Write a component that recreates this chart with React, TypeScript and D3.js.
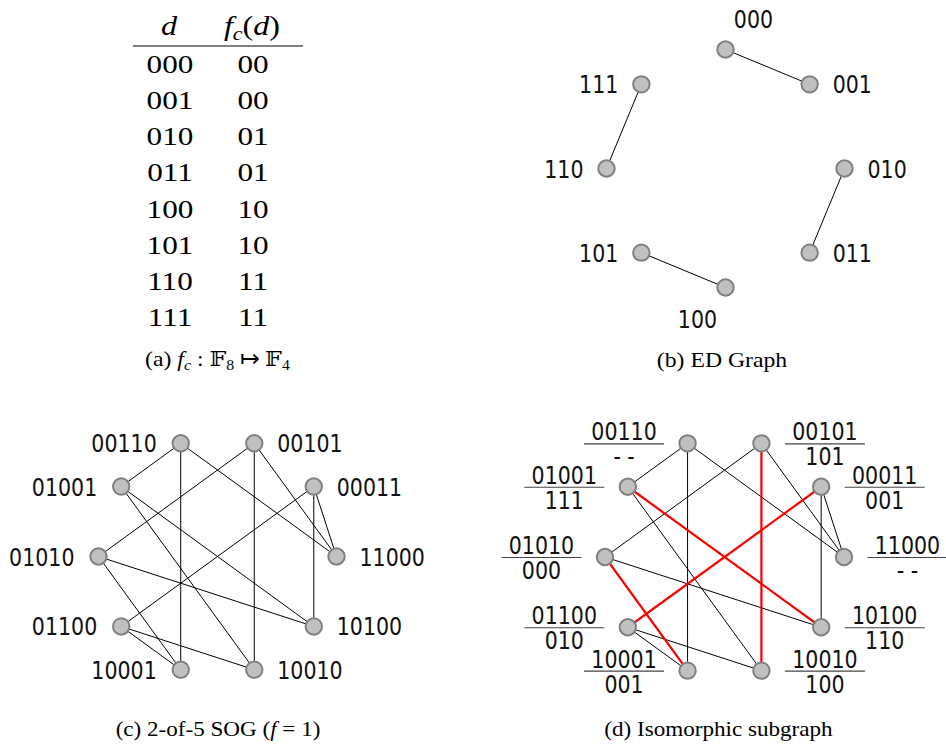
import React from 'react';
import * as d3 from 'd3';

// (a) table
const tableD = ['000', '001', '010', '011', '100', '101', '110', '111'];
const tableFc = ['00', '00', '01', '01', '10', '10', '11', '11'];

// (b) ED graph, clockwise from the top
const edNodes = ['000', '001', '010', '011', '100', '101', '110', '111'];
const edEdges = [['000', '001'], ['010', '011'], ['100', '101'], ['110', '111']];

// (c)/(d) 2-of-5 SOG, clockwise from the right
const sogNodes = ['11000', '10100', '10010', '10001', '01100', '01010', '01001', '00110', '00101', '00011'];
const sogEdges = [
  ['00110', '01001'], ['00110', '10001'], ['00110', '11000'],
  ['00101', '01010'], ['00101', '10010'], ['00101', '11000'],
  ['00011', '11000'], ['00011', '10100'], ['00011', '01100'],
  ['01001', '10100'], ['01001', '10010'],
  ['01010', '10100'], ['01010', '10001'],
  ['01100', '10001'], ['01100', '10010'],
];
// (d) labels under each SOG node, same order as sogNodes
const subLabels = ['- -', '110', '100', '001', '010', '000', '111', '- -', '101', '001'];
const redEdges = [['01001', '10100'], ['00011', '01100'], ['00101', '10010'], ['01010', '10001']];

const W = 946;
const H = 747;

function ring(nodes: string[], cx: number, cy: number, r: number, start: number) {
  const angle = d3.scaleLinear().domain([0, nodes.length]).range([start, start + 2 * Math.PI]);
  const m = new Map<string, { x: number; y: number; a: number }>();
  nodes.forEach((n, i) => {
    const a = angle(i);
    m.set(n, { x: cx + r * Math.cos(a), y: cy + r * Math.sin(a), a });
  });
  return m;
}

const Sans = ({ x, y, anchor, children }: any) => (
  <text transform={`translate(${x},${y}) scale(0.84,1)`} textAnchor={anchor}
    fontFamily="DejaVu Sans, sans-serif" fontSize={24.5} fill="#111">{children}</text>
);

const Serif = ({ x, y, size, sx, children }: any) => (
  <text transform={`translate(${x},${y}) scale(${sx},1)`} textAnchor="middle"
    fontFamily="'Liberation Serif', 'Times New Roman', serif" fontSize={size} fill="#000">{children}</text>
);

const Node = ({ p }: any) => (
  <circle cx={p.x} cy={p.y} r={8.2} fill="#c0c0c0" stroke="#808080" strokeWidth={2} />
);

export default function App() {
  const rowY = d3.scaleLinear().domain([0, tableD.length - 1]).range([73, 326]);
  const ed = ring(edNodes, 725.5, 168.5, 119, -Math.PI / 2);
  const sogC = ring(sogNodes, 217.5, 556.5, 119, 0);
  const sogD = ring(sogNodes, 724.5, 557, 119.5, 0);

  return (
    <svg width={W} height={H} style={{ position: 'absolute', left: 0, top: 0, background: '#fff' }}>
      {/* (a) table */}
      <Serif x={169} y={35} size={28} sx={1.15}><tspan fontStyle="italic">d</tspan></Serif>
      <Serif x={252} y={35} size={28} sx={1.15}>
        <tspan fontStyle="italic">f</tspan>
        <tspan fontStyle="italic" fontSize={19} dy={5}>c</tspan>
        <tspan dy={-5}>(</tspan><tspan fontStyle="italic">d</tspan><tspan>)</tspan>
      </Serif>
      <line x1={133} x2={303} y1={46} y2={46} stroke="#000" strokeWidth={1.2} />
      {tableD.map((d, i) => (
        <g key={d}>
          <Serif x={170} y={rowY(i)} size={26} sx={1.2}>{d}</Serif>
          <Serif x={253} y={rowY(i)} size={26} sx={1.2}>{tableFc[i]}</Serif>
        </g>
      ))}
      <Serif x={217.5} y={366} size={21} sx={1.13}>
        <tspan>(a) </tspan><tspan fontStyle="italic">f</tspan>
        <tspan fontStyle="italic" fontSize={14} dy={4}>c</tspan>
        <tspan dy={-4}> : </tspan><tspan fontFamily="DejaVu Serif, DejaVu Sans">𝔽</tspan>
        <tspan fontSize={14} dy={4}>8</tspan>
        <tspan dy={-4}> ↦ </tspan><tspan fontFamily="DejaVu Serif, DejaVu Sans">𝔽</tspan>
        <tspan fontSize={14} dy={4}>4</tspan>
      </Serif>

      {/* (b) ED graph */}
      {edEdges.map(([a, b]) => (
        <line key={a + b} x1={ed.get(a)!.x} y1={ed.get(a)!.y} x2={ed.get(b)!.x} y2={ed.get(b)!.y}
          stroke="#000" strokeWidth={1} />
      ))}
      {edNodes.map(n => {
        const p = ed.get(n)!;
        const c = Math.cos(p.a);
        const s = Math.sin(p.a);
        let lab;
        if (c > 0.2) lab = <Sans x={p.x + 23} y={p.y + 9} anchor="start">{n}</Sans>;
        else if (c < -0.2) lab = <Sans x={p.x - 23} y={p.y + 9} anchor="end">{n}</Sans>;
        else lab = <Sans x={p.x - 28 * s} y={p.y + 31 * s + 9} anchor="middle">{n}</Sans>;
        return <g key={n}><Node p={p} />{lab}</g>;
      })}
      <Serif x={722} y={367} size={21} sx={1.13}>(b) ED Graph</Serif>

      {/* (c) SOG */}
      {sogEdges.map(([a, b]) => (
        <line key={a + b} x1={sogC.get(a)!.x} y1={sogC.get(a)!.y} x2={sogC.get(b)!.x} y2={sogC.get(b)!.y}
          stroke="#000" strokeWidth={1} />
      ))}
      {sogNodes.map(n => {
        const p = sogC.get(n)!;
        const right = Math.cos(p.a) > 0;
        return (
          <g key={n}>
            <Node p={p} />
            <Sans x={right ? p.x + 23 : p.x - 24} y={p.y + 9} anchor={right ? 'start' : 'end'}>{n}</Sans>
          </g>
        );
      })}
      <Serif x={218} y={736} size={21} sx={1.1}>
        <tspan>(c) 2-of-5 SOG (</tspan><tspan fontStyle="italic">f</tspan><tspan> = 1)</tspan>
      </Serif>

      {/* (d) isomorphic subgraph */}
      {sogEdges.map(([a, b]) => (
        <line key={a + b} x1={sogD.get(a)!.x} y1={sogD.get(a)!.y} x2={sogD.get(b)!.x} y2={sogD.get(b)!.y}
          stroke="#000" strokeWidth={1} />
      ))}
      {redEdges.map(([a, b]) => (
        <line key={a + b} x1={sogD.get(a)!.x} y1={sogD.get(a)!.y} x2={sogD.get(b)!.x} y2={sogD.get(b)!.y}
          stroke="#ff0000" strokeWidth={2.2} />
      ))}
      {sogNodes.map((n, i) => {
        const p = sogD.get(n)!;
        const side = Math.cos(p.a) > 0 ? 1 : -1;
        const cx = p.x + side * 63.5;
        return (
          <g key={n}>
            <Node p={p} />
            <Sans x={cx} y={p.y - 3} anchor="middle">{n}</Sans>
            <line x1={cx - 40} x2={cx + 40} y1={p.y + 0.5} y2={p.y + 0.5} stroke="#444" strokeWidth={1.2} />
            <Sans x={cx} y={p.y + 22} anchor="middle">{subLabels[i]}</Sans>
          </g>
        );
      })}
      <Serif x={718.5} y={736} size={21} sx={1.1}>(d) Isomorphic subgraph</Serif>
    </svg>
  );
}
